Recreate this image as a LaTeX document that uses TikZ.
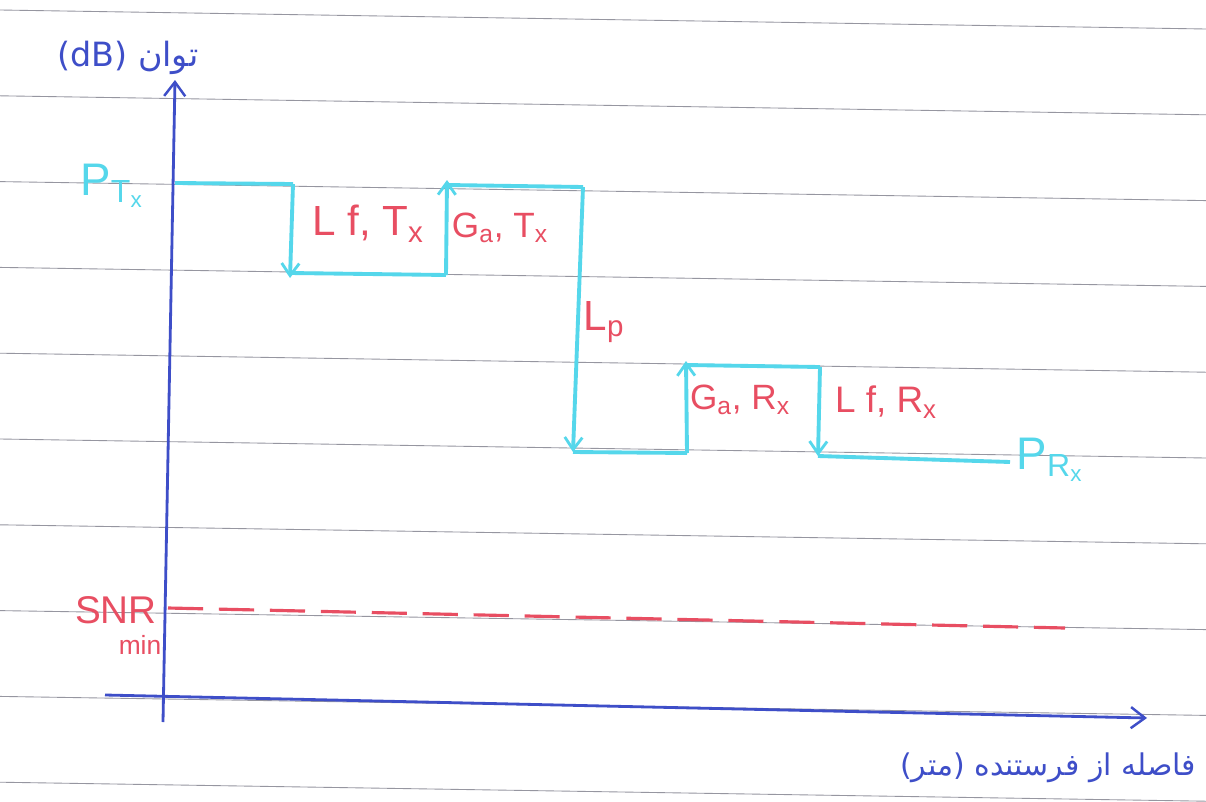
\documentclass[tikz,border=0pt]{standalone}
\usepackage{fontspec}
\setmainfont{Liberation Sans}
\newfontfamily\arabicfont[Script=Arabic]{DejaVu Sans}
\TeXXeTstate=1
\usetikzlibrary{arrows.meta}
\definecolor{pen}{RGB}{62,78,200}
\definecolor{cy}{RGB}{85,215,235}
\definecolor{rd}{RGB}{232,78,98}
\definecolor{ruled}{RGB}{150,150,160}
\tikzset{
  ruleline/.style={ruled, line width=0.5pt},
  axis/.style={pen, line width=1.6pt, -{Straight Barb[length=8pt,width=12pt,line width=1.4pt]}},
  trace/.style={cy, line width=2.2pt},
  tracearrow/.style={trace, -{Straight Barb[length=7pt,width=10pt,line width=1.6pt]}},
  redlab/.style={rd, font=\fontsize{24}{28}\selectfont, inner sep=1pt},
  cylab/.style={cy, font=\fontsize{26}{30}\selectfont, inner sep=1pt},
  bluelab/.style={pen, font=\arabicfont\fontsize{19}{24}\selectfont, inner sep=1pt},
  snrdash/.style={rd, line width=1.8pt, dash pattern=on 20pt off 9pt}
}
\begin{document}
\begin{tikzpicture}[x=0.02cm,y=-0.02cm]
\useasboundingbox (0,0) rectangle (1206,801);
\fill[white] (0,0) rectangle (1206,801);
% ruled paper
\foreach \i in {0,...,9}
  \draw[ruleline] (0,{10+85.8*\i}) -- (1206,{29+85.8*\i});

% axes
\coordinate (yo) at (163,722);
\coordinate (ytop) at (175,80);
\coordinate (xo) at (105,695);
\coordinate (xend) at (1147,718);
\draw[axis] (yo) -- (ytop);
\draw[axis] (xo) -- (xend);

% staircase
\coordinate (a0) at (175,183);
\coordinate (a1) at (293,184);
\coordinate (a2) at (290,278);
\coordinate (a3) at (290,273);
\coordinate (b1) at (446,275);
\coordinate (b2) at (447,180);
\coordinate (b3) at (448,185);
\coordinate (c1) at (583,187);
\coordinate (c2) at (573,452);
\coordinate (d1) at (687,453);
\coordinate (d2) at (686,361);
\coordinate (d3) at (686,365);
\coordinate (e1) at (820,367);
\coordinate (e2) at (818,456);
\coordinate (f1) at (1010,462);

\draw[trace] (a0) -- (a1);
\draw[tracearrow] (a1) -- (a2);
\draw[trace] (a3) -- (b1);
\draw[tracearrow] (b1) -- (b2);
\draw[trace] (b3) -- (c1);
\draw[tracearrow] (c1) -- (c2);
\draw[trace] (c2) -- (d1);
\draw[tracearrow] (d1) -- (d2);
\draw[trace] (d3) -- (e1);
\draw[tracearrow] (e1) -- (e2);
\draw[trace] (e2) -- (f1);

% SNR min line
\coordinate (s0) at (168,608);
\coordinate (s1) at (1065,628);
\draw[snrdash] (s0) -- (s1);

% labels
\node[cylab] (ptx) at (112,186) {P\textsubscript{T\textsubscript{x}}};
\node[cylab] (prx) at (1050,460) {P\textsubscript{R\textsubscript{x}}};
\node[redlab] (lftx) at (368,224) {L f, T\textsubscript{x}};
\node[redlab, font=\fontsize{20}{24}\selectfont] (gatx) at (500,228) {G\textsubscript{a}, T\textsubscript{x}};
\node[redlab] (lp) at (604,322) {L\textsubscript{p}};
\node[redlab, font=\fontsize{20}{24}\selectfont] (garx) at (740,400) {G\textsubscript{a}, R\textsubscript{x}};
\node[redlab, font=\fontsize{21}{25}\selectfont] (lfrx) at (886,402) {L f, R\textsubscript{x}};
\node[redlab, font=\fontsize{22}{26}\selectfont] (snr) at (116,610) {SNR};
\node[redlab, font=\fontsize{15}{18}\selectfont] (snrmin) at (140,645) {min};

\node[bluelab] (ylab) at (128,58) {\beginR توان (\beginL dB\endL)\endR};
\node[bluelab, font=\arabicfont\fontsize{17}{22}\selectfont, anchor=east] (xlab) at (1198,768) {\beginR فاصله از فرستنده (متر)\endR};
\end{tikzpicture}
\end{document}
